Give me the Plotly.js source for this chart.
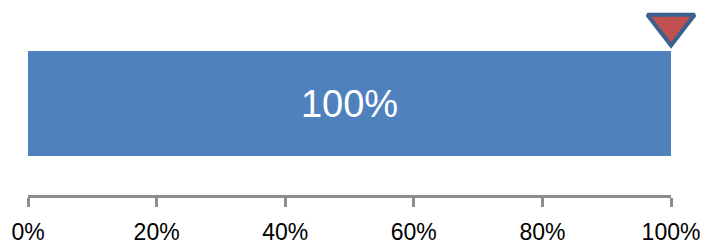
<!DOCTYPE html>
<html>
<head>
<meta charset="utf-8">
<script src="https://cdn.plot.ly/plotly-3.0.1.min.js"></script>
<style>html,body{margin:0;padding:0;background:#fff;}#chart{width:706px;height:248px;}</style>
</head>
<body>
<div id="chart"></div>
<script>
// Data
var barValues = [1.0];
var barLabels = ['100%'];
var markerValues = [1.0];
var tickValues = [0, 0.2, 0.4, 0.6, 0.8, 1.0];
var tickLabels = ['0%', '20%', '40%', '60%', '80%', '100%'];

var barTrace = {
  type: 'bar',
  orientation: 'h',
  x: barValues,
  y: [0.915],
  width: [1.05],
  text: barLabels,
  textposition: 'inside',
  insidetextanchor: 'middle',
  textfont: {color: '#ffffff', size: 38, family: 'Liberation Sans, Arial, sans-serif'},
  marker: {color: '#4f81bd', line: {width: 0}},
  hoverinfo: 'none',
  showlegend: false
};

var markerTrace = {
  type: 'scatter',
  mode: 'markers',
  x: markerValues,
  y: [1.7],
  marker: {symbol: 'triangle-down', size: 41, color: '#c0504d', line: {color: '#3b5f8e', width: 4}},
  cliponaxis: false,
  hoverinfo: 'none',
  showlegend: false
};

var layout = {
  width: 706, height: 248,
  margin: {l: 28, r: 35, t: 5, b: 53},
  paper_bgcolor: '#ffffff', plot_bgcolor: '#ffffff',
  font: {family: 'Liberation Sans, Arial, sans-serif', color: '#000000'},
  xaxis: {
    range: [0, 1], showgrid: false, zeroline: false,
    showline: true, linecolor: '#8c8c8c', linewidth: 3,
    ticks: 'outside', ticklen: 9, tickwidth: 3, tickcolor: '#8c8c8c',
    tickvals: tickValues, ticktext: tickLabels,
    tickfont: {size: 23, color: '#000000'},
    ticklabelstandoff: 5,
    fixedrange: true
  },
  yaxis: {
    range: [0, 1.9], visible: false, showgrid: false, zeroline: false, fixedrange: true
  }
};

Plotly.newPlot('chart', [barTrace, markerTrace], layout, {displayModeBar: false, staticPlot: true});
</script>
</body>
</html>
